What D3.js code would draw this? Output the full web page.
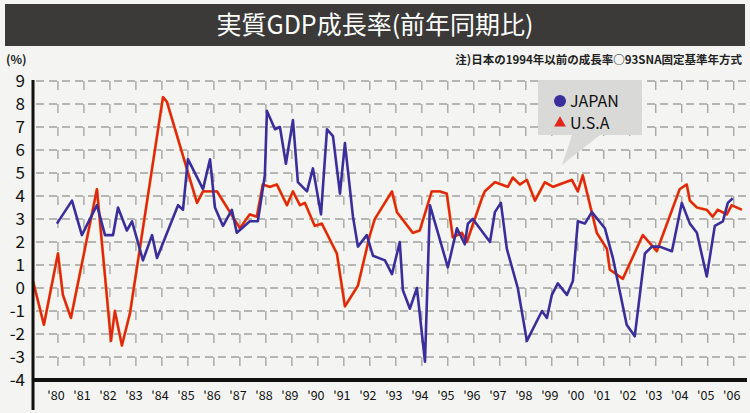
<html>
<head>
<meta charset="utf-8">
<script src="https://cdn.jsdelivr.net/npm/d3@7"></script>
<style>
  body { margin: 0; background: #f4f4f2; }
  text { font-family: "Noto Sans CJK JP", "Liberation Sans", sans-serif; }
</style>
</head>
<body>
<svg></svg>
<script>
// quarterly readings, year as decimal
var usaYears = [1979.04,1979.46,1980,1980.19,1980.5,1981.5,1982.04,1982.19,1982.46,1982.77,1984.04,1984.19,1985.35,1985.58,1986.12,1987,1987.38,1987.65,1987.88,1988.15,1988.42,1988.81,1989.04,1989.31,1989.5,1989.88,1990.15,1990.73,1991.04,1991.54,1992,1992.19,1992.85,1993.04,1993.65,1993.92,1994.38,1994.69,1994.96,1995.19,1995.54,1995.73,1996.31,1996.42,1996.81,1997.31,1997.5,1997.77,1998.04,1998.35,1998.73,1999.04,1999.77,2000,2000.19,2000.73,2001.12,2001.23,2001.73,2002.5,2003.04,2003.92,2004.19,2004.31,2004.58,2004.96,2005.19,2005.38,2005.73,2005.92,2006.31];
var usaValues = [0.3,-1.6,1.5,-0.3,-1.3,4.3,-2.3,-1.0,-2.5,-1.1,8.3,8.1,3.7,4.2,4.2,2.6,3.2,3.1,4.5,4.4,4.5,3.6,4.2,3.6,3.7,2.7,2.8,1.5,-0.8,0.1,2.3,3.0,4.2,3.3,2.4,2.5,4.2,4.2,4.1,2.2,2.4,2.0,3.9,4.2,4.6,4.4,4.8,4.5,4.7,3.8,4.6,4.4,4.7,4.2,4.9,2.4,1.7,0.8,0.4,2.3,1.6,4.3,4.5,3.8,3.5,3.4,3.1,3.4,3.2,3.6,3.4];
var japanYears = [1979.96,1980.54,1980.92,1981.5,1981.81,1982.12,1982.31,1982.65,1982.85,1983.27,1983.62,1983.81,1984.62,1984.81,1985,1985.58,1985.85,1986.04,1986.35,1986.69,1986.88,1987.38,1987.69,1987.96,1988.04,1988.35,1988.54,1988.77,1989.04,1989.23,1989.58,1989.81,1990.12,1990.35,1990.58,1990.85,1991.04,1991.35,1991.54,1991.88,1992.12,1992.58,1992.85,1993.15,1993.27,1993.54,1993.81,1994.12,1994.31,1995,1995.35,1995.65,1995.77,1995.96,1996.62,1996.81,1997.04,1997.27,1997.69,1998.04,1998.62,1998.81,1999,1999.23,1999.58,1999.81,2000,2000.27,2000.54,2001.04,2001.35,2001.88,2002.19,2002.58,2002.85,2003.15,2003.62,2004,2004.31,2004.58,2004.96,2005.27,2005.58,2005.77,2005.96];
var japanValues = [2.8,3.8,2.3,3.6,2.3,2.3,3.5,2.5,2.9,1.2,2.3,1.3,3.6,3.4,5.6,4.3,5.6,3.5,2.7,3.4,2.4,2.9,2.9,4.9,7.7,6.9,7.0,5.4,7.3,4.6,4.2,5.2,3.2,6.9,6.6,4.1,6.3,3.1,1.8,2.3,1.4,1.2,0.6,2.0,-0.1,-0.9,0.0,-3.2,3.6,0.9,2.6,1.9,2.8,3.0,2.0,3.3,3.7,1.7,0.0,-2.3,-1.0,-1.3,-0.3,0.2,-0.3,0.3,2.9,2.8,3.3,2.6,1.3,-1.6,-2.1,1.5,1.8,1.8,1.6,3.7,2.8,2.4,0.5,2.7,2.9,3.7,3.9];
var yTicks = [-4,-3,-2,-1,0,1,2,3,4,5,6,7,8,9];
var xTickYears = d3.range(1980, 2007);
var xTickLabels = xTickYears.map(function(y) { return "'" + String(y).slice(2); });

var W = 750, H = 413;
var svg = d3.select('svg').attr('width', W).attr('height', H);

// title bar
svg.append('rect').attr('x', 5).attr('y', 4).attr('width', 740).attr('height', 42).attr('fill', '#3b3a38');
svg.append('text').attr('x', 375).attr('y', 34).attr('text-anchor', 'middle')
   .attr('fill', '#fff').attr('font-size', 25).text('実質GDP成長率(前年同期比)');
svg.append('text').attr('x', 6).attr('y', 64).attr('font-size', 12).attr('font-weight', 'bold').attr('fill', '#222').text('(%)');
svg.append('text').attr('x', 742).attr('y', 64).attr('text-anchor', 'end').attr('font-size', 11.5)
   .attr('font-weight', 'bold').attr('fill', '#222').text('注)日本の1994年以前の成長率○93SNA固定基準年方式');

var x = d3.scaleLinear().domain([1979.04, 2006.47]).range([33, 746]);
var y = d3.scaleLinear().domain([-4, 9]).range([380, 81]);

var grid = svg.append('g');
grid.selectAll('.hg').data(yTicks.filter(function(d) { return d > -4; })).enter().append('line')
    .attr('x1', 36).attr('x2', 746).attr('y1', y).attr('y2', y)
    .attr('stroke', '#777').attr('stroke-width', 1).attr('stroke-dasharray', '8,5');
grid.selectAll('.vg').data(xTickYears).enter().append('line')
    .attr('x1', x).attr('x2', x).attr('y1', 81).attr('y2', 378)
    .attr('stroke', '#888').attr('stroke-width', 1).attr('stroke-dasharray', '9,14');

// legend callout
svg.append('path')
   .attr('d', 'M538,80 H642 V135 H600 L562,165 L572,135 H538 Z')
   .attr('fill', '#d9d9d8');
svg.append('circle').attr('cx', 560).attr('cy', 101).attr('r', 6).attr('fill', '#3a2f9a');
svg.append('text').attr('x', 570).attr('y', 107).attr('font-size', 16).attr('font-family', 'Liberation Sans').attr('fill', '#111').text('JAPAN');
svg.append('path').attr('d', d3.symbol(d3.symbolTriangle, 60)()).attr('transform', 'translate(560,123)').attr('fill', '#e0251b');
svg.append('text').attr('x', 570).attr('y', 129).attr('font-size', 16).attr('font-family', 'Liberation Sans').attr('fill', '#111').text('U.S.A');

var line = d3.line().x(function(d) { return x(d[0]); }).y(function(d) { return y(d[1]); });
var usa = d3.zip(usaYears, usaValues), japan = d3.zip(japanYears, japanValues);
svg.append('path').datum(usa).attr('d', line).attr('fill', 'none')
   .attr('stroke', '#f0b030').attr('stroke-width', 2.9).attr('stroke-linejoin', 'round');
svg.append('path').datum(usa).attr('d', line).attr('fill', 'none')
   .attr('stroke', '#e2231a').attr('stroke-width', 2.3).attr('stroke-linejoin', 'round');
svg.append('path').datum(japan).attr('d', line).attr('fill', 'none')
   .attr('stroke', '#3a2f9a').attr('stroke-width', 2.6).attr('stroke-linejoin', 'round');

// axes
svg.append('line').attr('x1', 33).attr('x2', 33).attr('y1', 80).attr('y2', 410).attr('stroke', '#111').attr('stroke-width', 3);
svg.append('line').attr('x1', 32).attr('x2', 747).attr('y1', 380).attr('y2', 380).attr('stroke', '#111').attr('stroke-width', 4);

svg.selectAll('.yl').data(yTicks).enter().append('text')
   .attr('x', 25).attr('y', function(d) { return y(d) + 6; }).attr('text-anchor', 'end')
   .attr('font-size', 17).attr('font-family', 'Liberation Sans').attr('fill', '#111')
   .text(function(d) { return d; });
svg.selectAll('.xl').data(xTickYears).enter().append('text')
   .attr('x', function(d) { return x(d) - 2; }).attr('y', 400).attr('text-anchor', 'middle')
   .attr('font-size', 12.5).attr('font-family', 'Liberation Sans').attr('fill', '#111')
   .text(function(d, i) { return xTickLabels[i]; });
</script>
</body>
</html>
